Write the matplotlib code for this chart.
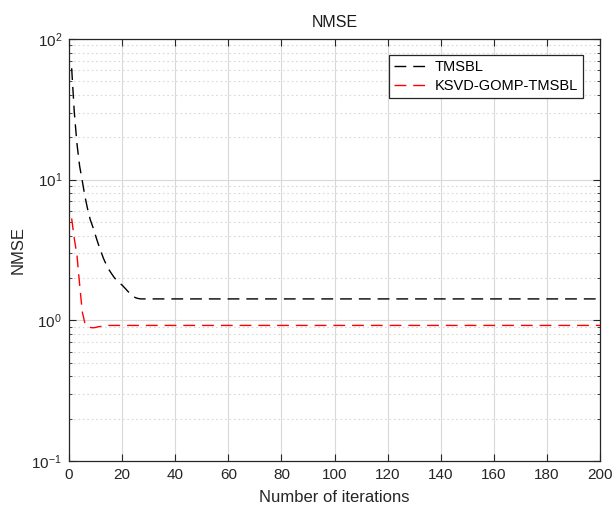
import matplotlib
matplotlib.use("Agg")
import matplotlib.pyplot as plt
from matplotlib.ticker import LogLocator, NullFormatter, MultipleLocator

plt.rcParams['font.family'] = ['Liberation Sans', 'DejaVu Sans']
plt.rcParams['mathtext.fontset'] = 'custom'
plt.rcParams['mathtext.rm'] = 'Liberation Sans'
plt.rcParams['mathtext.default'] = 'regular'
plt.rcParams['axes.unicode_minus'] = False

# Data
tmsbl_iter = [1, 2, 3, 4, 5, 6, 7, 8, 9, 10, 11, 12, 13, 14, 15, 16, 17, 18, 19,
              20, 21, 22, 23, 24, 25, 26, 27, 200]
tmsbl_nmse = [62, 30, 18, 12.5, 9.8, 7.6, 6.2, 5.2, 4.6, 4.0, 3.5, 3.1, 2.75, 2.5,
              2.3, 2.15, 2.02, 1.92, 1.84, 1.78, 1.70, 1.62, 1.55, 1.49, 1.45,
              1.43, 1.42, 1.42]
ksvd_iter = [1, 2, 3, 4, 5, 6, 7, 8, 9, 10, 11, 12, 13, 15, 200]
ksvd_nmse = [5.3, 3.8, 2.9, 1.8, 1.15, 0.95, 0.90, 0.89, 0.885, 0.89, 0.90, 0.905,
             0.91, 0.92, 0.92]

fig = plt.figure(figsize=(6.12, 5.09), dpi=100)
ax = fig.add_axes([69/612, 48/509, 531/612, 422/509])

dash = (0, (8.5, 5))
ax.plot(tmsbl_iter, tmsbl_nmse, color='black', linestyle=dash, linewidth=1.0, label='TMSBL')
ax.plot(ksvd_iter, ksvd_nmse, color='red', linestyle=dash, linewidth=1.0, label='KSVD-GOMP-TMSBL')

ax.set_yscale('log')
ax.set_xlim(0, 200)
ax.set_ylim(0.1, 100)
ax.xaxis.set_major_locator(MultipleLocator(20))
ax.yaxis.set_major_locator(LogLocator(base=10, numticks=10))
ax.yaxis.set_minor_locator(LogLocator(base=10, subs=range(2, 10), numticks=20))
ax.yaxis.set_minor_formatter(NullFormatter())

ax.grid(True, which='major', color='#d9d9d9', linestyle='-', linewidth=0.8)
ax.grid(True, which='minor', axis='y', color='#d9d9d9', linestyle=(0, (1.5, 2.5)), linewidth=0.8)
ax.set_axisbelow(True)

ax.tick_params(which='both', direction='in', top=True, right=True, labelsize=11, colors='#262626')
ax.tick_params(which='major', length=5, pad=5)
ax.tick_params(which='minor', length=2.5)
for s in ax.spines.values():
    s.set_color('#262626')
    s.set_linewidth(0.9)

ax.set_title('NMSE', fontsize=11.5, color='#1a1a1a', pad=9)
ax.set_xlabel('Number of iterations', fontsize=12, color='#262626', labelpad=6)
ax.set_ylabel('NMSE', fontsize=12, color='#262626')

leg = ax.legend(loc='upper right', bbox_to_anchor=(0.968, 0.962), fontsize=10.5,
                frameon=True, fancybox=False, edgecolor='#262626', framealpha=1,
                handlelength=2.2, handletextpad=0.6, borderpad=0.35, labelspacing=0.35,
                borderaxespad=0)
leg.get_frame().set_linewidth(0.9)

fig.savefig('out.png', dpi=100)
